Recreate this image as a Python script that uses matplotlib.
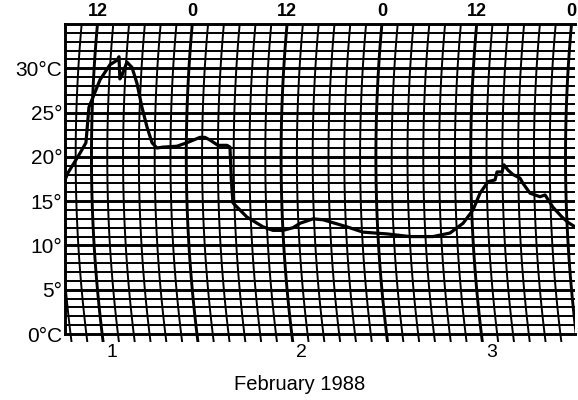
import numpy as np
import matplotlib
matplotlib.use("Agg")
import matplotlib.pyplot as plt
from matplotlib.patches import Rectangle

plt.rcParams['font.family'] = ['Liberation Sans', 'DejaVu Sans']

# Thermograph trace: hours since 1 Feb 1988 00:00 (chart coordinate) and temperature (°C)
hours = [8.65, 9.03, 10.54, 11.30, 11.68, 13.08, 14.34, 15.23, 15.48, 15.6, 15.86,
         16.49, 17.13, 17.76, 18.39, 19.02, 19.66, 20.29, 21.05, 22.82, 24.09,
         25.73, 26.37, 27.0, 28.01, 29.15, 29.53, 29.7, 29.91, 31.68, 33.71,
         34.97, 36.24, 37.51, 38.39, 40.04, 41.30, 44.34, 46.37, 49.41, 52.32,
         55.23, 57.38, 59.03, 60.29, 61.18, 62.19, 63.08, 63.33, 63.96, 64.22,
         64.72, 65.35, 66.24, 66.62, 67.51, 68.77, 69.41, 70.42, 71.56, 72.32, 73.2]
temps = [17.4, 18.2, 20.4, 21.6, 25.6, 28.7, 30.4, 30.9, 31.3, 28.8, 29.2,
         30.7, 30.1, 28.3, 25.6, 23.4, 21.6, 21.0, 21.1, 21.2, 21.6,
         22.2, 22.2, 21.9, 21.3, 21.3, 21.1, 17.4, 14.8, 13.2, 12.1,
         11.7, 11.7, 12.0, 12.5, 13.0, 12.9, 12.1, 11.5, 11.3, 11.0,
         11.0, 11.4, 12.5, 14.0, 15.9, 17.2, 17.4, 18.3, 18.3, 19.1,
         18.5, 18.0, 17.6, 17.0, 15.9, 15.5, 15.7, 14.3, 13.2, 12.6, 12.1]

ytick_vals = [0, 5, 10, 15, 20, 25, 30]
ytick_labels = ['0°C', '5°', '10°', '15°', '20°', '25°', '30°C']
top_hours = [12, 24, 36, 48, 60, 72]
top_labels = ['12', '0', '12', '0', '12', '0']
days = [1, 2, 3]
xlabel = 'February 1988'

T_MIN, T_MAX = 0, 35
X_MIN, X_MAX = 8.65, 73.2
CURV = 0.00338   # pen-arc curvature of the time lines (hours per °C^2)
T_C = 20.0

def arc_x(h, T):
    return h + CURV * (np.asarray(T) - T_C) ** 2

fig = plt.figure(figsize=(5.78, 4.0), dpi=100)
ax = fig.add_axes([65/578, 66/400, 510/578, 310/400])
ax.set_xlim(X_MIN, X_MAX)
ax.set_ylim(T_MIN, T_MAX)

# horizontal temperature lines
for t in range(T_MIN + 1, T_MAX):
    ax.axhline(t, color='black', lw=2.1 if t % 5 == 0 else 1.4, zorder=1)

# curved time lines every 2 hours, extended slightly below the chart
clip = Rectangle((0, -0.025), 1, 1.025, transform=ax.transAxes, visible=False)
ax.add_patch(clip)
Ts = np.linspace(-0.8, T_MAX, 100)
for k in range(0, 80, 2):
    ln, = ax.plot(arc_x(k, Ts), Ts, color='black',
                  lw=2.1 if k % 12 == 0 else 1.4, zorder=1, clip_on=True)
    ln.set_clip_path(clip)

# trace
ax.plot(hours, temps, color='black', lw=2.3, zorder=3, solid_joinstyle='round')

ax.spines['right'].set_visible(False)
for s in ['left', 'top', 'bottom']:
    ax.spines[s].set_linewidth(2.1)

ax.set_xticks([])
ax.set_yticks(ytick_vals)
ax.set_yticklabels(ytick_labels, fontsize=15)
ax.tick_params(axis='y', length=0, pad=2)
for lab in ax.get_yticklabels():
    lab.set_verticalalignment('center_baseline')

for h, lab in zip(top_hours, top_labels):
    ax.annotate(lab, xy=(arc_x(h, T_MAX), 1), xycoords=('data', 'axes fraction'),
                xytext=(0, 9), textcoords='offset points', ha='center', va='center',
                fontsize=13, fontweight='bold', annotation_clip=False)

for d in days:
    ax.annotate(str(d), xy=(24 * (d - 1) + 14.6, 0), xycoords=('data', 'axes fraction'),
                xytext=(0, -13), textcoords='offset points', ha='center', va='center',
                fontsize=14, annotation_clip=False)

fig.text(300/578, 1 - 384/400, xlabel, ha='center', va='center', fontsize=14.5)

fig.savefig('out.png', dpi=100)
